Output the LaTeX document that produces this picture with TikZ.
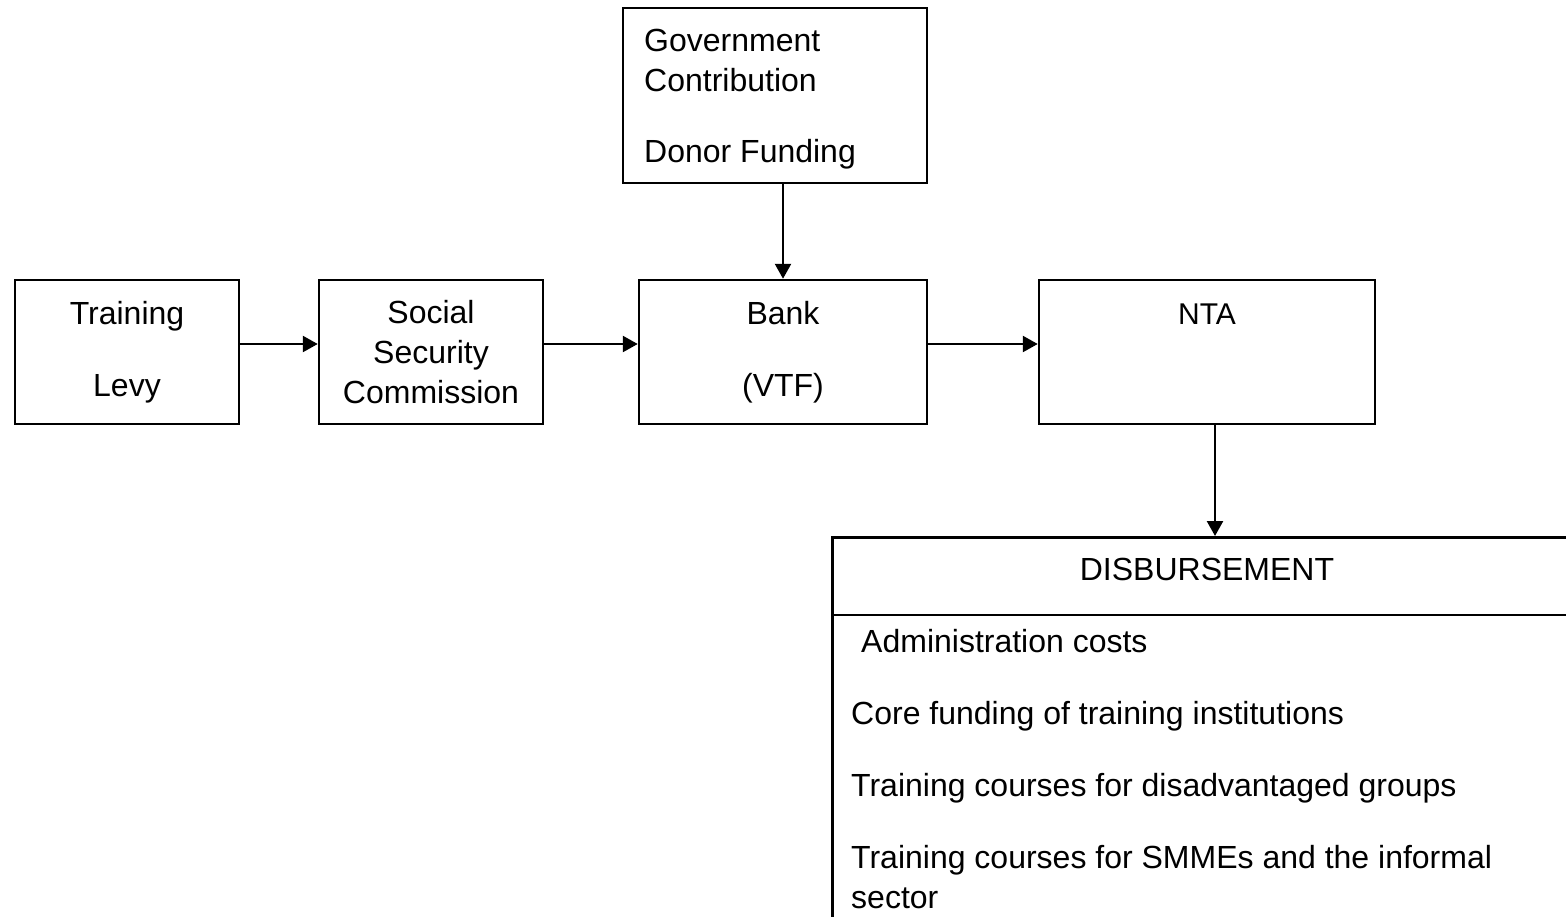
\documentclass[tikz,border=0pt]{standalone}
\usepackage{fontspec}
\setmainfont{Liberation Sans}
\usetikzlibrary{arrows.meta}
\begin{document}
\begin{tikzpicture}[x=1pt,y=-1pt,
  every node/.style={font=\fontsize{32}{40}\selectfont, inner sep=0pt},
  box/.style={draw, line width=2.5pt, rectangle, minimum height=144pt},
  txt/.style={align=center},
  arr/.style={line width=2.5pt, -{Triangle[length=15pt,width=16pt]}}]
% page frame (also cuts off the open-ended disbursement box)
\clip (0,0) rectangle (1566,916);

% funding sources
\node[box, minimum width=304pt, minimum height=175pt] (gov) at (775,95.5) {};
\node[anchor=north west, align=left] (govtxt) at (644,28.5)
  {Government\\Contribution\\[31pt]Donor Funding};

% chain of boxes
\node[box, txt, minimum width=224pt] (lev) at (127,352) {Training\\[32pt]Levy};
\node[box, txt, minimum width=224pt] (ssc) at (431,352) {Social\\Security\\Commission};
\node[box, txt, minimum width=288pt] (bank) at (783,352) {Bank\\[32pt](VTF)};
\node[box, minimum width=336pt] (nta) at (1207,352) {};
\node[anchor=base, font=\fontsize{30}{36}\selectfont] (ntatxt) at (1207,324) {NTA};

% disbursement table (runs past the page edge)
\node[box, anchor=north west, minimum width=800pt, minimum height=420pt] (disb) at (831,536) {};
\draw[line width=2.5pt] (disb.west |- 0,615) -- (disb.east |- 0,615);
\node[anchor=base] (disbhead) at (1207,580) {DISBURSEMENT};
\node[anchor=north west, align=left] (items) at (851,628.7)
  {\hspace{10pt}Administration costs\\[32pt]
   Core funding of training institutions\\[32pt]
   Training courses for disadvantaged groups\\[32pt]
   Training courses for SMMEs and the informal\\
   sector};

% money flow
\draw[arr] ([yshift=8pt]lev.east) -- ([yshift=8pt]ssc.west);
\draw[arr] ([yshift=8pt]ssc.east) -- ([yshift=8pt]bank.west);
\draw[arr] ([yshift=8pt]bank.east) -- ([yshift=8pt]nta.west);
\draw[arr] (gov.south -| bank.north) -- (bank.north);
\draw[arr] ([xshift=8pt]nta.south) -- ([xshift=8pt]nta.south |- disb.north);
\end{tikzpicture}
\end{document}
